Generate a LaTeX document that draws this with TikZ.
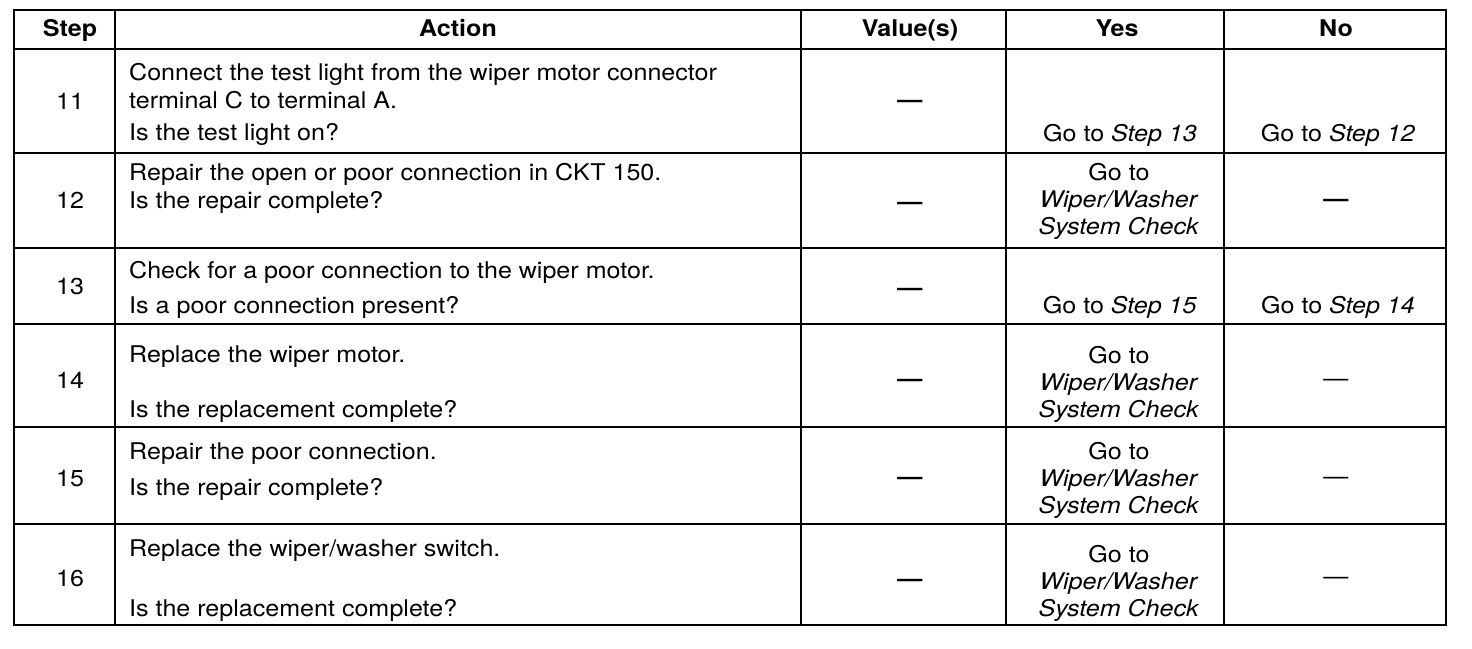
\documentclass[tikz,border=0pt]{standalone}
\usepackage{fontspec}
\setmainfont[FakeStretch=1.09]{TeX Gyre Heros}
\begin{document}
\begin{tikzpicture}[x=1pt,y=-1pt,
        rule/.style={line width=2.6pt},
        head/.style={anchor=base,inner sep=0pt,font=\fontsize{23}{27}\selectfont\bfseries},
        txt/.style={anchor=base west,inner sep=0pt,font=\fontsize{23}{27}\selectfont},
        ctr/.style={anchor=base,inner sep=0pt,font=\fontsize{23}{27}\selectfont},
        goto/.style={align=center,inner sep=0pt,font=\fontsize{23}{27}\selectfont},
        bar/.style={anchor=base,inner sep=0pt,font=\fontsize{23}{23}\selectfont\bfseries},
        thinbar/.style={anchor=base,inner sep=0pt,font=\fontsize{23}{23}\selectfont}]
            \useasboundingbox (0,0) rectangle (1472,648);
            % grid
            \draw[rule] (14,10) rectangle (1446,625);
            \draw[rule] (115,10) -- (115,625);
            \draw[rule] (801,10) -- (801,625);
            \draw[rule] (1006,10) -- (1006,625);
            \draw[rule] (1224,10) -- (1224,625);
            \draw[rule] (14,49) -- (1446,49);
            \draw[rule] (14,153) -- (1446,153);
            \draw[rule] (14,248) -- (1446,248);
            \draw[rule] (14,324) -- (1446,324);
            \draw[rule] (14,427) -- (1446,427);
            \draw[rule] (14,524) -- (1446,524);
            % header
            \node (hstep) at (70,36) [head] {Step};
            \node (hact) at (458,36) [head] {Action};
            \node (hval) at (910,36) [head] {Value(s)};
            \node (hyes) at (1117,36) [head] {Yes};
            \node (hno) at (1336,36) [head] {No};
            % step 11
            \node (step11) at (70,109) [ctr] {11};
            \node (act11a) at (129,80) [txt] {Connect the test light from the wiper motor connector};
            \node (act11b) at (129,108) [txt] {terminal C to terminal A.};
            \node (act11c) at (129,140) [txt] {Is the test light on?};
            \node (val11) at (910,107) [bar] {—};
            \node (yes11) at (1120,141) [ctr] {Go to \textit{Step 13}};
            \node (no11) at (1338,141) [ctr] {Go to \textit{Step 12}};
            % step 12
            \node (step12) at (70,208) [ctr] {12};
            \node (act12a) at (129,180) [txt] {Repair the open or poor connection in CKT 150.};
            \node (act12b) at (129,208) [txt] {Is the repair complete?};
            \node (val12) at (910,209) [bar] {—};
            \node (yes12) at (1119,201) [goto] {Go to\\\textit{Wiper/Washer}\\\textit{System Check}};
            \node (no12) at (1336,206) [bar] {—};
            % step 13
            \node (step13) at (70,294) [ctr] {13};
            \node (act13a) at (129,278) [txt] {Check for a poor connection to the wiper motor.};
            \node (act13b) at (129,313) [txt] {Is a poor connection present?};
            \node (val13) at (910,295) [bar] {—};
            \node (yes13) at (1120,313) [ctr] {Go to \textit{Step 15}};
            \node (no13) at (1338,313) [ctr] {Go to \textit{Step 14}};
            % step 14
            \node (step14) at (70,388) [ctr] {14};
            \node (act14a) at (129,362) [txt] {Replace the wiper motor.};
            \node (act14b) at (129,417) [txt] {Is the replacement complete?};
            \node (val14) at (910,386) [bar] {—};
            \node (yes14) at (1119,384) [goto] {Go to\\\textit{Wiper/Washer}\\\textit{System Check}};
            \node (no14) at (1336,386) [thinbar] {—};
            % step 15
            \node (step15) at (70,486) [ctr] {15};
            \node (act15a) at (129,459) [txt] {Repair the poor connection.};
            \node (act15b) at (129,495) [txt] {Is the repair complete?};
            \node (val15) at (910,484) [bar] {—};
            \node (yes15) at (1119,480) [goto] {Go to\\\textit{Wiper/Washer}\\\textit{System Check}};
            \node (no15) at (1336,484) [thinbar] {—};
            % step 16
            \node (step16) at (70,586) [ctr] {16};
            \node (act16a) at (129,556) [txt] {Replace the wiper/washer switch.};
            \node (act16b) at (129,616) [txt] {Is the replacement complete?};
            \node (val16) at (910,586) [bar] {—};
            \node (yes16) at (1119,583) [goto] {Go to\\\textit{Wiper/Washer}\\\textit{System Check}};
            \node (no16) at (1336,584) [thinbar] {—};
        \end{tikzpicture}
\end{document}
